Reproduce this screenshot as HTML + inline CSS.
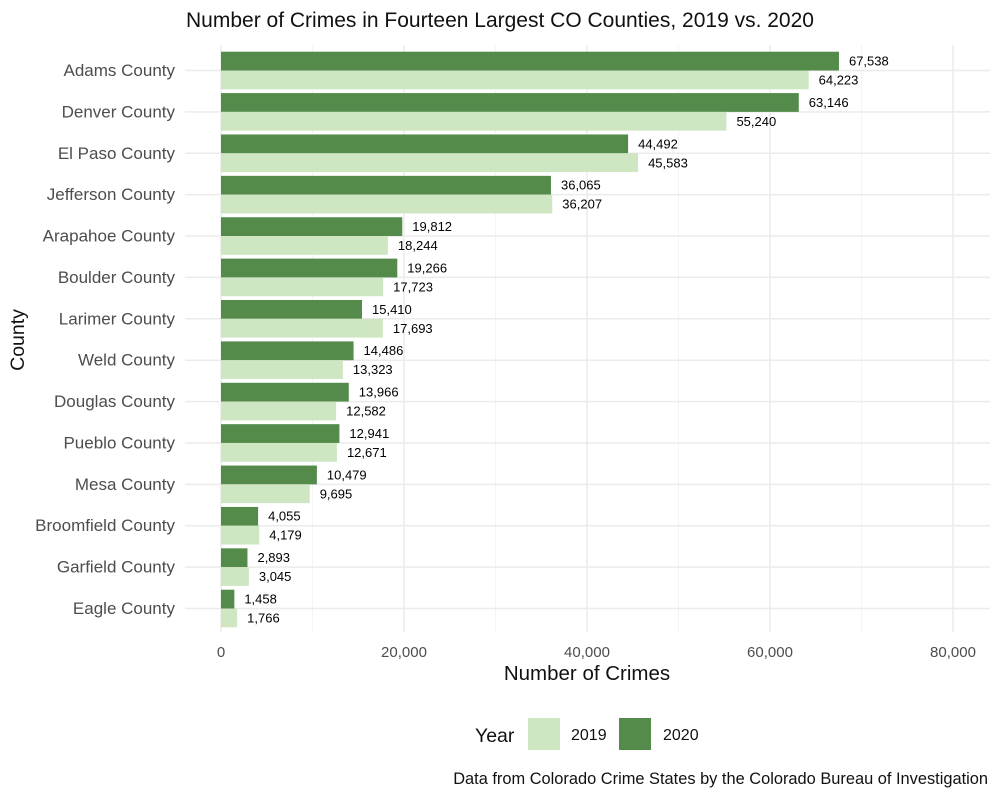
<!DOCTYPE html>
<html><head><meta charset="utf-8"><style>
body{margin:0;background:#fff;font-family:"Liberation Sans",sans-serif}
</style></head><body>
<svg id="chart" width="1000" height="800" xmlns="http://www.w3.org/2000/svg">
<text x="500" y="27" text-anchor="middle" font-size="21" fill="#111">Number of Crimes in Fourteen Largest CO Counties, 2019 vs. 2020</text>
<g id="grid"></g><g id="bars"></g><g id="labels"></g>
<text x="587" y="680" text-anchor="middle" font-size="20.5" fill="#111">Number of Crimes</text>
<text transform="translate(24,340) rotate(-90)" text-anchor="middle" font-size="19.5" fill="#111">County</text>
<g>
<text x="475" y="742" font-size="19.5" fill="#111">Year</text>
<rect x="528" y="718" width="32" height="32" fill="#cfe6c3"/>
<text x="571" y="740" font-size="16" fill="#111">2019</text>
<rect x="619" y="718" width="32" height="32" fill="#548b4b"/>
<text x="663" y="740" font-size="16" fill="#111">2020</text>
</g>
<text x="988" y="784" text-anchor="end" font-size="16.4" fill="#111">Data from Colorado Crime States by the Colorado Bureau of Investigation</text>
</svg>
<script>
const counties=["Adams County","Denver County","El Paso County","Jefferson County","Arapahoe County","Boulder County","Larimer County","Weld County","Douglas County","Pueblo County","Mesa County","Broomfield County","Garfield County","Eagle County"];
const values2019=[64223,55240,45583,36207,18244,17723,17693,13323,12582,12671,9695,4179,3045,1766];
const values2020=[67538,63146,44492,36065,19812,19266,15410,14486,13966,12941,10479,4055,2893,1458];
const xTicks=[0,20000,40000,60000,80000];
const NS="http://www.w3.org/2000/svg";
const x=v=>221+v*732/80000;
const y=i=>70.5+i*(609-71)/13;
const bw=18.8;
function el(t,a,p){const e=document.createElementNS(NS,t);for(const k in a)e.setAttribute(k,a[k]);p.appendChild(e);return e;}
const grid=document.getElementById('grid'),bars=document.getElementById('bars'),labels=document.getElementById('labels');
const fmt=v=>v.toLocaleString('en-US');
for(let v=10000;v<80000;v+=20000){const l=el('line',{x1:x(v),x2:x(v),y1:45,y2:632,stroke:'#f2f2f2','stroke-width':0.8},grid);
}
xTicks.forEach(v=>{const l=el('line',{x1:x(v),x2:x(v),y1:45,y2:632,stroke:'#ebebeb','stroke-width':1.5},grid);

const t=el('text',{x:x(v),y:657,'text-anchor':'middle','font-size':15,fill:'#4d4d4d'},labels);t.textContent=fmt(v);
});
counties.forEach((c,i)=>{const l=el('line',{x1:185,x2:990,y1:y(i),y2:y(i),stroke:'#ebebeb','stroke-width':1.5},grid);

const t=el('text',{x:175,y:y(i)+5.5,'text-anchor':'end','font-size':17,fill:'#4d4d4d'},labels);t.textContent=c;

const b2=el('rect',{x:x(0),y:y(i)-bw,width:x(values2020[i])-x(0),height:bw,fill:'#548b4b'},bars);

const b1=el('rect',{x:x(0),y:y(i),width:x(values2019[i])-x(0),height:bw,fill:'#cfe6c3'},bars);

const t2=el('text',{x:x(values2020[i])+10,y:y(i)-5,'font-size':13,fill:'#000'},labels);t2.textContent=fmt(values2020[i]);

const t1=el('text',{x:x(values2019[i])+10,y:y(i)+14,'font-size':13,fill:'#000'},labels);t1.textContent=fmt(values2019[i]);
});
</script>
</body></html>
